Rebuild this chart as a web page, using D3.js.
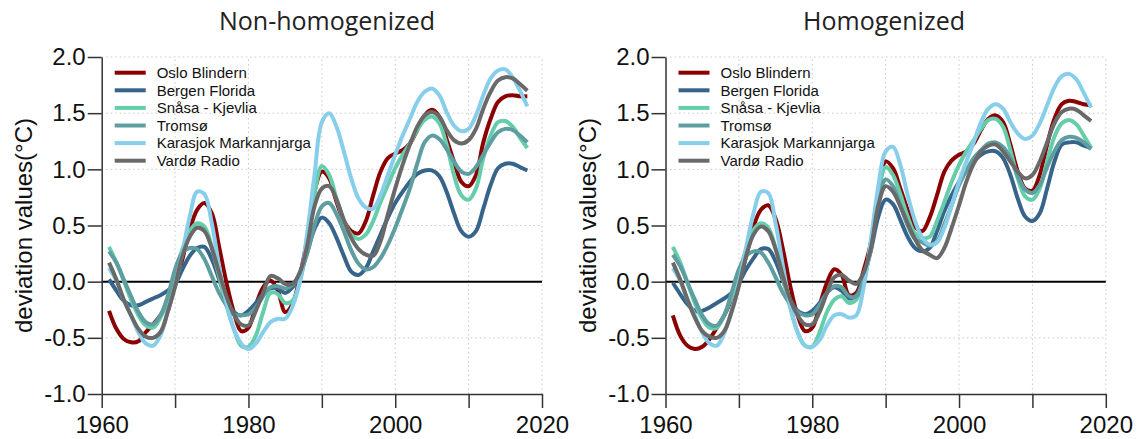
<html>
<head>
    <script src="https://d3js.org/d3.v7.min.js"></script>
    <title>Temperature deviation</title>
    <style>
        body { margin: 0; background: #fff; }
    </style>
</head>
<body>
<svg id="chart" width="1137" height="439"></svg>

<script>
    var years = d3.range(1961, 2019);

    var stations = ["Oslo Blindern", "Bergen Florida", "Sn\u00e5sa - Kjevlia", "Troms\u00f8", "Karasjok Markannjarga", "Vard\u00f8 Radio"];
    var colors = ["#8b0000", "#36648b", "#66cdaa", "#5f9ea0", "#87ceeb", "#696969"];

    var xTicks = [1960, 1970, 1980, 1990, 2000, 2010, 2020];
    var xLabels = [1960, 1980, 2000, 2020];
    var yTicks = [-1.0, -0.5, 0.0, 0.5, 1.0, 1.5, 2.0];

    // non-homogenized series, 1961-2018
    var osloRaw = [-0.26, -0.42, -0.51, -0.54, -0.53, -0.45, -0.38, -0.30, -0.19, -0.04,
        0.20, 0.46, 0.64, 0.70, 0.61, 0.31, -0.01, -0.27, -0.44, -0.41,
        -0.21, -0.05, 0.01, -0.08, -0.27, -0.20, 0.05, 0.38, 0.80, 0.98,
        0.92, 0.71, 0.54, 0.45, 0.43, 0.54, 0.77, 0.98, 1.10, 1.14,
        1.17, 1.23, 1.35, 1.48, 1.53, 1.47, 1.27, 1.07, 0.89, 0.85,
        0.95, 1.24, 1.45, 1.60, 1.65, 1.66, 1.65, 1.65];
    var bergenRaw = [0.02, -0.08, -0.17, -0.21, -0.21, -0.18, -0.15, -0.12, -0.08, -0.02,
        0.11, 0.23, 0.30, 0.31, 0.20, 0.02, -0.16, -0.27, -0.30, -0.26,
        -0.19, -0.11, -0.06, -0.06, -0.10, -0.05, 0.08, 0.26, 0.47, 0.57,
        0.52, 0.39, 0.23, 0.09, 0.06, 0.12, 0.27, 0.42, 0.57, 0.70,
        0.80, 0.89, 0.96, 0.99, 0.99, 0.94, 0.80, 0.61, 0.45, 0.40,
        0.45, 0.65, 0.86, 1.01, 1.05, 1.05, 1.02, 0.99];
    var snasaRaw = [0.31, 0.17, 0.01, -0.16, -0.30, -0.39, -0.41, -0.32, -0.16, 0.05,
        0.29, 0.45, 0.52, 0.49, 0.31, 0.05, -0.21, -0.42, -0.57, -0.58,
        -0.48, -0.27, -0.10, -0.11, -0.19, -0.17, 0.00, 0.32, 0.78, 1.03,
        0.95, 0.74, 0.54, 0.42, 0.38, 0.42, 0.54, 0.71, 0.86, 1.01,
        1.13, 1.23, 1.35, 1.44, 1.47, 1.41, 1.22, 0.95, 0.77, 0.73,
        0.83, 1.10, 1.30, 1.42, 1.43, 1.38, 1.28, 1.19];
    var tromsoRaw = [0.27, 0.17, 0.02, -0.13, -0.27, -0.36, -0.38, -0.30, -0.13, 0.11,
        0.26, 0.30, 0.29, 0.20, 0.05, -0.10, -0.21, -0.29, -0.30, -0.29,
        -0.23, -0.13, -0.05, -0.04, -0.06, -0.03, 0.07, 0.25, 0.50, 0.67,
        0.70, 0.60, 0.45, 0.28, 0.16, 0.11, 0.13, 0.21, 0.33, 0.48,
        0.65, 0.83, 1.05, 1.24, 1.30, 1.27, 1.18, 1.07, 0.98, 0.96,
        1.02, 1.13, 1.24, 1.33, 1.36, 1.35, 1.30, 1.24];
    var karasjokRaw = [0.12, 0.01, -0.16, -0.30, -0.45, -0.55, -0.57, -0.48, -0.27, -0.04,
        0.26, 0.58, 0.80, 0.78, 0.52, 0.14, -0.19, -0.42, -0.55, -0.60,
        -0.55, -0.45, -0.36, -0.33, -0.33, -0.22, 0.00, 0.43, 0.95, 1.42,
        1.50, 1.38, 1.16, 0.92, 0.74, 0.66, 0.65, 0.77, 0.95, 1.13,
        1.30, 1.45, 1.60, 1.69, 1.72, 1.66, 1.51, 1.39, 1.34, 1.36,
        1.48, 1.66, 1.81, 1.88, 1.89, 1.82, 1.70, 1.56];
    var vardoRaw = [0.17, 0.02, -0.16, -0.30, -0.42, -0.49, -0.50, -0.45, -0.27, -0.04,
        0.23, 0.40, 0.48, 0.45, 0.30, 0.08, -0.13, -0.29, -0.38, -0.39,
        -0.26, -0.10, 0.05, 0.03, -0.02, -0.02, 0.08, 0.32, 0.67, 0.83,
        0.85, 0.73, 0.55, 0.39, 0.29, 0.24, 0.23, 0.36, 0.60, 0.83,
        1.04, 1.22, 1.38, 1.48, 1.51, 1.47, 1.35, 1.26, 1.23, 1.26,
        1.36, 1.54, 1.69, 1.79, 1.82, 1.81, 1.76, 1.70];

    // homogenized series, 1961-2018
    var osloHom = [-0.30, -0.48, -0.57, -0.60, -0.58, -0.51, -0.41, -0.30, -0.16, -0.01,
        0.23, 0.49, 0.64, 0.68, 0.56, 0.29, -0.04, -0.30, -0.44, -0.41,
        -0.21, -0.01, 0.11, 0.06, -0.12, -0.10, 0.10, 0.35, 0.80, 1.07,
        1.01, 0.83, 0.64, 0.49, 0.45, 0.57, 0.77, 0.98, 1.08, 1.13,
        1.16, 1.23, 1.35, 1.45, 1.48, 1.42, 1.22, 0.98, 0.83, 0.81,
        0.95, 1.22, 1.45, 1.58, 1.61, 1.60, 1.58, 1.57];
    var bergenHom = [-0.01, -0.11, -0.20, -0.26, -0.26, -0.23, -0.19, -0.15, -0.10, -0.01,
        0.11, 0.21, 0.29, 0.29, 0.18, 0.01, -0.16, -0.26, -0.29, -0.26,
        -0.19, -0.10, -0.05, -0.08, -0.15, -0.12, 0.05, 0.28, 0.58, 0.73,
        0.69, 0.55, 0.40, 0.30, 0.27, 0.30, 0.45, 0.63, 0.77, 0.89,
        0.99, 1.07, 1.13, 1.16, 1.16, 1.10, 0.95, 0.74, 0.58, 0.54,
        0.61, 0.83, 1.07, 1.22, 1.24, 1.24, 1.21, 1.19];
    var snasaHom = [0.31, 0.17, -0.01, -0.19, -0.33, -0.41, -0.41, -0.30, -0.13, 0.08,
        0.29, 0.46, 0.52, 0.48, 0.30, 0.04, -0.23, -0.45, -0.57, -0.58,
        -0.45, -0.27, -0.16, -0.13, -0.19, -0.16, 0.02, 0.30, 0.78, 1.02,
        0.95, 0.78, 0.58, 0.43, 0.39, 0.40, 0.54, 0.71, 0.89, 1.04,
        1.16, 1.26, 1.36, 1.44, 1.45, 1.38, 1.17, 0.92, 0.76, 0.73,
        0.83, 1.07, 1.29, 1.41, 1.44, 1.40, 1.30, 1.19];
    var tromsoHom = [0.24, 0.14, -0.01, -0.16, -0.30, -0.38, -0.39, -0.30, -0.10, 0.11,
        0.23, 0.27, 0.26, 0.17, 0.04, -0.10, -0.20, -0.27, -0.30, -0.29,
        -0.21, -0.10, -0.04, -0.05, -0.13, -0.13, 0.02, 0.32, 0.72, 0.91,
        0.85, 0.68, 0.50, 0.38, 0.35, 0.32, 0.36, 0.51, 0.68, 0.86,
        0.99, 1.10, 1.17, 1.23, 1.24, 1.20, 1.10, 0.94, 0.82, 0.79,
        0.86, 1.02, 1.16, 1.26, 1.29, 1.28, 1.24, 1.18];
    var karasjokHom = [0.12, 0.01, -0.16, -0.30, -0.45, -0.55, -0.57, -0.46, -0.26, -0.01,
        0.31, 0.61, 0.80, 0.79, 0.52, 0.14, -0.21, -0.45, -0.57, -0.58,
        -0.52, -0.39, -0.30, -0.29, -0.32, -0.30, -0.05, 0.38, 0.85, 1.16,
        1.20, 1.04, 0.77, 0.54, 0.39, 0.33, 0.35, 0.48, 0.68, 0.89,
        1.07, 1.24, 1.42, 1.54, 1.58, 1.54, 1.42, 1.32, 1.27, 1.30,
        1.41, 1.57, 1.73, 1.83, 1.85, 1.80, 1.68, 1.55];
    var vardoHom = [0.17, 0.02, -0.16, -0.32, -0.44, -0.49, -0.50, -0.44, -0.27, -0.04,
        0.23, 0.42, 0.49, 0.45, 0.29, 0.05, -0.16, -0.30, -0.38, -0.38,
        -0.27, -0.10, 0.04, 0.06, 0.01, -0.02, 0.08, 0.30, 0.68, 0.85,
        0.80, 0.67, 0.52, 0.38, 0.28, 0.24, 0.21, 0.30, 0.48, 0.68,
        0.89, 1.05, 1.16, 1.21, 1.22, 1.16, 1.07, 0.98, 0.92, 0.95,
        1.07, 1.24, 1.41, 1.51, 1.54, 1.53, 1.48, 1.43];

    var panels = [
        {title: "Non-homogenized", left: 101.7, titleX: 327, series: [osloRaw, bergenRaw, snasaRaw, tromsoRaw, karasjokRaw, vardoRaw]},
        {title: "Homogenized", left: 665.5, titleX: 884, series: [osloHom, bergenHom, snasaHom, tromsoHom, karasjokHom, vardoHom]}
    ];

    var plotWidth = 440.3,
        plotTop = 57,
        plotBottom = 394;

    var svg = d3.select("#chart");

    function fmt(d) { return d.toFixed(1); }

    panels.forEach(function (p) {
        var x = d3.scaleLinear().domain([1960, 2020]).range([p.left, p.left + plotWidth]);
        var y = d3.scaleLinear().domain([-1, 2]).range([plotBottom, plotTop]);

        var g = svg.append("g");

        // dotted grid
        g.selectAll(".vgrid").data(xTicks.slice(1)).enter().append("line")
            .attr("x1", function (d) { return x(d); })
            .attr("x2", function (d) { return x(d); })
            .attr("y1", y(-1)).attr("y2", y(2))
            .attr("stroke", "#c8c8c8").attr("stroke-width", 1)
            .attr("stroke-dasharray", "1.5,3");

        g.selectAll(".hgrid").data(yTicks.filter(function (d) { return d !== -1 && d !== 0; })).enter().append("line")
            .attr("x1", x(1960)).attr("x2", x(2020))
            .attr("y1", function (d) { return y(d); })
            .attr("y2", function (d) { return y(d); })
            .attr("stroke", "#c8c8c8").attr("stroke-width", 1)
            .attr("stroke-dasharray", "1.5,3");

        // zero line
        g.append("line")
            .attr("x1", x(1960)).attr("x2", x(2020))
            .attr("y1", y(0)).attr("y2", y(0))
            .attr("stroke", "#000").attr("stroke-width", 2);

        // axes
        var yAxis = d3.axisLeft(y).tickValues(yTicks).tickFormat(fmt).tickSizeInner(14).tickSizeOuter(0).tickPadding(2);
        var xAxis = d3.axisBottom(x).tickValues(xTicks)
            .tickFormat(function (d) { return xLabels.indexOf(d) >= 0 ? d : ""; })
            .tickSizeInner(14).tickSizeOuter(0).tickPadding(8);

        var ya = g.append("g").attr("transform", "translate(" + x(1960) + ",0)").call(yAxis);
        var xa = g.append("g").attr("transform", "translate(0," + y(-1) + ")").call(xAxis);

        [ya, xa].forEach(function (a) {
            a.select(".domain").attr("stroke", "#333").attr("stroke-width", 1.5);
            a.selectAll(".tick line").attr("stroke", "#333").attr("stroke-width", 1.5);
            a.selectAll(".tick text")
                .attr("fill", "#111")
                .attr("font-family", "'Liberation Sans', Arial, sans-serif")
                .attr("font-size", 24);
        });

        // y label
        g.append("text")
            .attr("transform", "translate(" + (p.left - 69.7) + "," + ((plotTop + plotBottom) / 2) + ") rotate(-90)")
            .attr("text-anchor", "middle")
            .attr("font-family", "'Liberation Sans', Arial, sans-serif")
            .attr("font-size", 24)
            .attr("fill", "#111")
            .text("deviation values(\u00b0C)");

        // title
        g.append("text")
            .attr("x", p.titleX)
            .attr("y", 29.5)
            .attr("text-anchor", "middle")
            .attr("font-family", "'Open Sans', sans-serif")
            .attr("font-size", 25)
            .attr("fill", "#222")
            .text(p.title);

        // curves
        var line = d3.line()
            .x(function (d, i) { return x(years[i]); })
            .y(function (d) { return y(d); })
            .curve(d3.curveCatmullRom.alpha(0.5));

        g.selectAll(".series").data(p.series).enter().append("path")
            .attr("fill", "none")
            .attr("stroke", function (d, i) { return colors[i]; })
            .attr("stroke-width", 4)
            .attr("stroke-linejoin", "round")
            .attr("d", line);

        // legend
        var lg = g.append("g");
        stations.forEach(function (name, i) {
            var ly = 72.7 + i * 17.6;
            lg.append("line")
                .attr("x1", p.left + 13).attr("x2", p.left + 44)
                .attr("y1", ly).attr("y2", ly)
                .attr("stroke", colors[i]).attr("stroke-width", 4);
            lg.append("text")
                .attr("x", p.left + 55)
                .attr("y", ly)
                .attr("dy", "0.35em")
                .attr("font-family", "'Liberation Sans', Arial, sans-serif")
                .attr("font-size", 15)
                .attr("fill", "#111")
                .text(name);
        });
    });
</script>
</body>
</html>
